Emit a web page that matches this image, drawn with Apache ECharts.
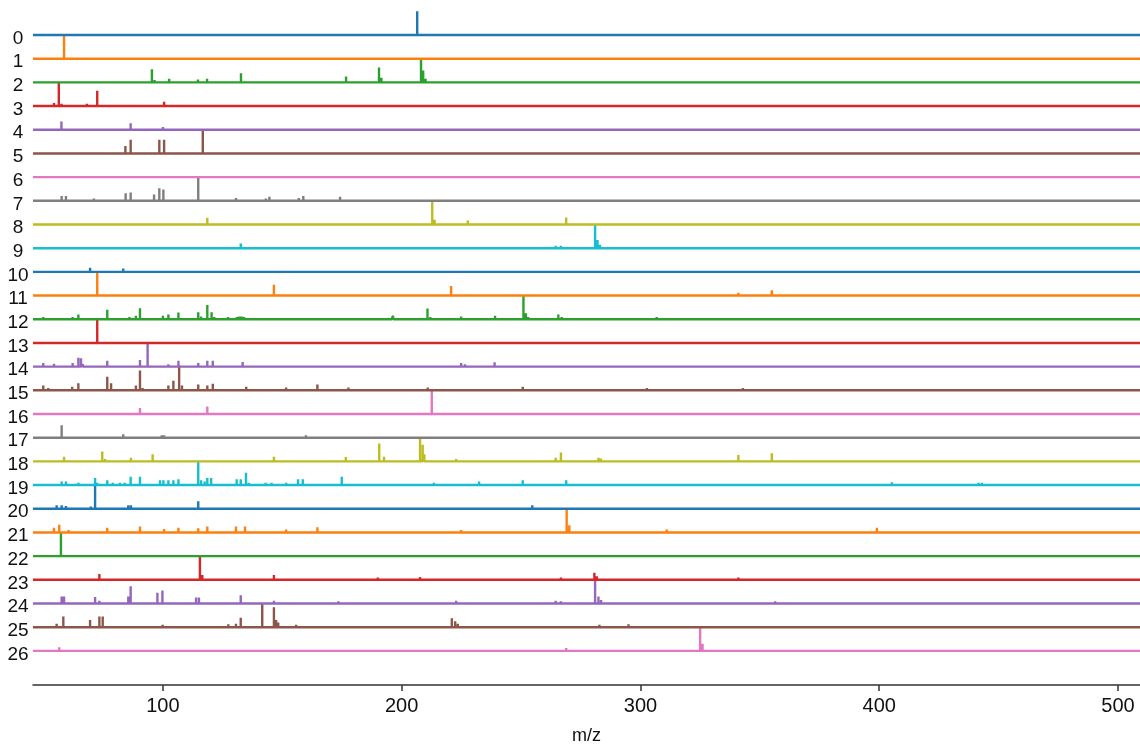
<!DOCTYPE html>
<html>
<head>
<meta charset="utf-8">
<script src="https://cdn.jsdelivr.net/npm/echarts@6/dist/echarts.min.js"></script>
<style>html,body{margin:0;padding:0;background:#fff;}#chart{width:1140px;height:744px;}</style>
</head>
<body>
<div id="chart"></div>
<script>
// Row labels (spectrum index)
const rowLabels = ['0','1','2','3','4','5','6','7','8','9','10','11','12','13','14','15','16','17','18','19','20','21','22','23','24','25','26'];
// X axis tick labels
const xTicks = [100, 200, 300, 400, 500];
const mzMin = 45.6, mzMax = 509.2;

// Peaks per spectrum: [m/z, relative intensity]
const s0 = [[206.5,1.0]];
const s1 = [[58.6,1.0]];
const s2 = [[60.3,0.05],[74.5,0.06],[80.8,0.05],[84.6,0.05],[88.3,0.06],[95.4,0.55],[96.5,0.1],[102.6,0.15],[114.7,0.12],[118.5,0.15],[132.7,0.38],[133.5,0.08],[146.5,0.08],[162.5,0.07],[165,0.06],[176.7,0.25],[177.5,0.08],[190.5,0.63],[191.5,0.2],[192.5,0.08],[208.1,1.0],[209,0.5],[210,0.15],[222.4,0.04],[249.6,0.04],[266.3,0.04],[282.7,0.04],[294.8,0.04],[369.4,0.03],[414.6,0.03],[430.5,0.03]];
const s3 = [[54.4,0.13],[56.4,1.0],[57.5,0.1],[68.2,0.1],[72.5,0.65],[100.5,0.18]];
const s4 = [[54.4,0.05],[57.5,0.35],[59.5,0.06],[72.3,0.03],[86.5,0.27],[100,0.12]];
const s5 = [[72.3,0.05],[84.3,0.31],[86.5,0.58],[98.5,0.58],[100.5,0.58],[116.7,1.0],[146.5,0.04],[158.7,0.04],[174.9,0.07],[220.7,0.04]];
const s6 = [];
const s7 = [[55.1,0.08],[57.6,0.2],[59.4,0.2],[66.4,0.06],[71.1,0.1],[74,0.05],[80.7,0.06],[84.4,0.32],[86.5,0.35],[96.3,0.27],[98.5,0.53],[100.2,0.48],[101.6,0.08],[114.8,1.0],[116.5,0.08],[130.6,0.12],[143.1,0.1],[144.6,0.17],[156.9,0.12],[158.8,0.2],[174.2,0.17],[189.3,0.04],[202.7,0.04],[206.9,0.04],[216.8,0.04],[232.4,0.05],[233.9,0.05]];
const s8 = [[64.5,0.04],[78,0.04],[90.4,0.08],[100,0.04],[108,0.04],[118.6,0.29],[130,0.04],[150,0.04],[180,0.04],[195,0.04],[212.8,1.0],[213.8,0.2],[227.7,0.17],[248.7,0.03],[268.9,0.3],[340,0.03],[356.4,0.03]];
const s9 = [[73.4,0.06],[132.6,0.2],[146.5,0.06],[160,0.03],[190,0.03],[248.7,0.05],[264.5,0.1],[266.7,0.1],[281,1.0],[282,0.35],[283,0.15],[325.7,0.04],[340.9,0.04],[356.4,0.04],[401.1,0.03],[414.6,0.03],[430,0.03]];
const s10 = [[55.5,0.08],[58,0.05],[69.5,0.17],[70.5,0.08],[83.4,0.14],[90,0.05],[99.5,0.05],[102,0.05],[114,0.04],[127.5,0.06],[140,0.04],[160,0.03],[200,0.03],[222,0.03],[370,0.03],[402,0.03]];
const s11 = [[72.5,1.0],[146.5,0.46],[220.7,0.4],[266.7,0.04],[281,0.03],[341,0.12],[355,0.22],[429.9,0.08]];
const s12 = [[49.9,0.1],[56,0.06],[62.2,0.1],[64.6,0.2],[72,0.06],[76.7,0.4],[86,0.1],[88.7,0.15],[90.4,0.46],[95,0.08],[100,0.15],[102.3,0.2],[106.5,0.28],[114.8,0.3],[116,0.12],[118.6,0.6],[120.4,0.3],[121.5,0.1],[127.3,0.1],[131,0.1],[132,0.12],[133,0.12],[134,0.1],[144.5,0.06],[151.6,0.06],[156.6,0.06],[164.6,0.08],[177.6,0.06],[185,0.05],[195.8,0.08],[196.4,0.15],[210.8,0.45],[212,0.1],[224.9,0.12],[226,0.08],[237,0.08],[239.1,0.15],[251,1.0],[252,0.25],[253,0.1],[265.6,0.2],[267,0.1],[268,0.05],[282,0.05],[306.8,0.1],[324.6,0.08],[378,0.04],[385,0.04],[406,0.03]];
const s13 = [[72.5,1.0]];
const s14 = [[49.9,0.15],[52,0.08],[54.4,0.12],[62.2,0.15],[64.6,0.38],[65.7,0.35],[66.5,0.1],[76.7,0.25],[78,0.05],[88.7,0.04],[90.4,0.28],[93.6,1.0],[100,0.05],[102.3,0.1],[106.5,0.25],[114.8,0.15],[118.6,0.25],[120.9,0.25],[133.4,0.2],[134.5,0.08],[150,0.03],[164,0.03],[178,0.04],[196,0.04],[210,0.03],[224.9,0.15],[226.5,0.1],[238.9,0.18],[240,0.06],[250,0.04],[266,0.04],[282,0.03],[300,0.04],[356,0.05]];
const s15 = [[49.9,0.2],[52,0.1],[56,0.06],[62,0.15],[64.6,0.3],[72,0.05],[76.7,0.57],[78.3,0.3],[86,0.08],[88.7,0.2],[90.4,0.84],[91.5,0.1],[98,0.08],[102.3,0.2],[104.4,0.4],[106.8,1.05],[108,0.2],[114.8,0.25],[118.6,0.2],[120.9,0.28],[127,0.08],[131,0.08],[134.9,0.15],[144.5,0.06],[151.6,0.12],[153,0.05],[164.7,0.25],[172,0.04],[177.7,0.12],[178.7,0.06],[186,0.06],[192,0.06],[196,0.06],[204,0.04],[210.9,0.12],[218,0.04],[222,0.04],[238,0.04],[250.7,0.15],[262,0.03],[266,0.03],[283,0.04],[302.7,0.1],[325,0.04],[342.9,0.1],[344,0.06],[369,0.04],[385,0.04],[407,0.04]];
const s16 = [[56.6,0.05],[72,0.04],[90.4,0.25],[106.5,0.05],[118.6,0.32],[146,0.04],[150,0.03],[212.6,1.0],[219,0.03],[248,0.03],[283,0.03]];
const s17 = [[57.6,0.52],[59,0.06],[68,0.04],[72,0.08],[73,0.06],[83.4,0.15],[84.5,0.05],[99.5,0.1],[100.5,0.1],[114.8,0.05],[159.9,0.1],[222,0.06],[226,0.04],[283,0.03],[400,0.03]];
const s18 = [[58.6,0.2],[74.6,0.42],[75.8,0.1],[86.6,0.15],[95.7,0.3],[106,0.03],[118.6,0.04],[146.5,0.2],[176.6,0.18],[190.6,0.76],[192.6,0.2],[207.7,1.0],[208.8,0.7],[209.5,0.3],[210.5,0.05],[222.8,0.1],[246,0.03],[264.5,0.15],[266.7,0.38],[282.4,0.15],[283.4,0.12],[341,0.27],[355,0.34]];
const s19 = [[52,0.05],[57.6,0.15],[59.4,0.15],[64.6,0.1],[71.6,0.3],[72.5,0.1],[76.7,0.2],[79,0.1],[82,0.1],[84,0.1],[86.5,0.35],[90.4,0.35],[92,0.06],[96,0.08],[98.8,0.2],[100.2,0.2],[102.3,0.2],[104.4,0.2],[106.5,0.25],[114.8,1.0],[116,0.2],[117.5,0.15],[118.6,0.3],[120.2,0.3],[127,0.08],[130.9,0.25],[132.6,0.25],[134.8,0.52],[136,0.1],[143,0.1],[145.5,0.1],[150,0.08],[151.6,0.1],[156.6,0.25],[158.6,0.25],[164,0.06],[170,0.06],[174.9,0.35],[176,0.08],[182,0.04],[189,0.05],[193,0.05],[196,0.05],[200,0.05],[204,0.05],[206,0.04],[213.5,0.1],[220,0.04],[232.4,0.15],[240,0.04],[250.7,0.2],[252,0.08],[268.9,0.2],[270,0.06],[302.7,0.05],[342.9,0.04],[378,0.03],[391,0.03],[399.4,0.05],[405.3,0.12],[406.5,0.06],[417,0.03],[420.6,0.03],[429.7,0.03],[441.6,0.1],[443,0.1],[456,0.03],[461,0.03]];
const s20 = [[52,0.04],[55.5,0.15],[57.6,0.15],[59.4,0.12],[65,0.04],[69.8,0.1],[71.6,1.0],[73,0.05],[80,0.04],[85.5,0.15],[86.6,0.15],[90,0.08],[94,0.06],[98,0.06],[101,0.06],[107.9,0.08],[114.8,0.32],[117,0.05],[123,0.05],[128,0.04],[146,0.04],[162,0.03],[180,0.03],[211.6,0.03],[254.7,0.15],[256,0.05],[268,0.03],[311,0.03],[342.9,0.03]];
const s21 = [[54.4,0.2],[56.6,0.32],[58,0.08],[60.5,0.1],[64,0.04],[76.7,0.2],[78,0.08],[90.4,0.25],[97,0.06],[100.5,0.15],[106.5,0.2],[114.8,0.18],[118.6,0.25],[130.6,0.25],[134.4,0.25],[151.6,0.12],[153,0.04],[164.7,0.22],[166,0.04],[175,0.03],[187,0.03],[200,0.03],[224.9,0.1],[226,0.04],[238.9,0.08],[252,0.03],[256,0.03],[269.1,1.0],[270.2,0.3],[271,0.08],[283,0.03],[285,0.03],[296,0.03],[311,0.12],[399,0.2],[400,0.04]];
const s22 = [[50,0.03],[55,0.04],[57.3,1.0],[60,0.04],[66,0.04],[71,0.03],[76,0.03],[83.7,0.08],[88,0.03],[92,0.03],[99,0.03],[110,0.03],[120,0.03],[143.5,0.08],[146,0.04],[160,0.03],[180,0.04],[184,0.04],[196,0.03],[206,0.03],[209.7,0.03],[213.7,0.03],[222.8,0.04],[227,0.03],[232.1,0.04],[265,0.03],[281,0.03],[400,0.03]];
const s23 = [[73.4,0.25],[74.5,0.08],[86.6,0.04],[100,0.04],[115.5,1.0],[116.5,0.2],[117.5,0.08],[146.5,0.2],[147.5,0.08],[190,0.1],[207.7,0.12],[208.8,0.05],[222.8,0.04],[266.7,0.1],[280.7,0.3],[281.7,0.15],[326,0.03],[341,0.1],[356,0.04],[401,0.03],[414.7,0.03],[430.7,0.03]];
const s24 = [[57.6,0.3],[58.6,0.3],[71.6,0.28],[73.4,0.12],[75,0.06],[85.5,0.3],[86.5,0.73],[95,0.08],[97.7,0.45],[99.8,0.55],[106,0.04],[113.9,0.25],[115.1,0.25],[117,0.06],[132.6,0.35],[146.5,0.12],[147.5,0.06],[173.5,0.1],[190,0.04],[200,0.04],[201.5,0.04],[222.8,0.12],[224,0.06],[230,0.04],[248.7,0.05],[264.5,0.12],[266.7,0.1],[268,0.05],[281,1.0],[282.4,0.3],[283.5,0.15],[296,0.04],[340,0.04],[341.5,0.04],[355,0.08],[356.4,0.1],[401,0.04],[414.6,0.04],[430,0.06]];
const s25 = [[55.5,0.15],[58.3,0.45],[69.5,0.3],[73.4,0.45],[74.8,0.45],[86,0.06],[90.4,0.08],[99.9,0.1],[101,0.08],[113.5,0.08],[127.4,0.12],[130.6,0.15],[132.6,0.4],[141.6,1.0],[146.5,0.84],[147.4,0.3],[148.3,0.2],[155.8,0.1],[178,0.04],[187,0.04],[204,0.05],[206,0.05],[208,0.05],[221,0.38],[222.4,0.25],[223.5,0.15],[238,0.05],[264.5,0.07],[266.7,0.07],[282.8,0.1],[283.8,0.05],[295,0.12],[341,0.04],[355,0.05],[356.5,0.05],[370,0.03],[401,0.04],[414.6,0.03],[430.5,0.05],[502,0.03]];
const s26 = [[56.6,0.15],[74,0.03],[90,0.03],[106,0.03],[120,0.03],[140,0.03],[268.9,0.12],[325,1.0],[326,0.3],[340.1,0.08]];

const spectra = [s0,s1,s2,s3,s4,s5,s6,s7,s8,s9,s10,s11,s12,s13,s14,s15,s16,s17,s18,s19,s20,s21,s22,s23,s24,s25,s26];
const palette = ['#1f77b4','#ff7f0e','#2ca02c','#d62728','#9467bd','#8c564b','#e377c2','#7f7f7f','#bcbd22','#17becf'];

// Build stick-spectrum polylines: row i baseline is at y=i (inverted axis), peaks rise by intensity
const series = spectra.map((peaks, i) => {
  const pts = [[mzMin, i]];
  peaks.slice().sort((a,b)=>a[0]-b[0]).forEach(([mz, h]) => {
    pts.push([mz, i], [mz, i - h], [mz, i]);
  });
  pts.push([mzMax, i]);
  return {
    type: 'line', name: rowLabels[i], data: pts, symbol: 'none', showSymbol: false,
    lineStyle: { width: 2.4, color: palette[i % 10] }, itemStyle: { color: palette[i % 10] },
    animation: false, silent: true, z: 2 + (27 - i)
  };
});

const font = 'Liberation Sans, Arial, sans-serif';
const chart = echarts.init(document.getElementById('chart'), null, { renderer: 'canvas' });
chart.setOption({
  animation: false,
  backgroundColor: '#fff',
  grid: { left: 33, right: 0, top: 11.3, bottom: 59, containLabel: false, outerBoundsMode: 'none' },
  xAxis: {
    type: 'value', min: mzMin, max: mzMax,
    name: 'm/z', nameLocation: 'middle', nameGap: 42,
    nameTextStyle: { fontSize: 18, color: '#111', fontFamily: font },
    axisLine: { show: true, onZero: false, lineStyle: { color: '#333', width: 1.5 } },
    axisTick: { show: true, customValues: xTicks, length: 6, lineStyle: { color: '#333', width: 1.5 } },
    axisLabel: { show: true, customValues: xTicks, fontSize: 20, color: '#111', margin: 11, fontFamily: font },
    splitLine: { show: false }
  },
  yAxis: {
    type: 'value', inverse: true, min: -1, max: 27.44,
    axisLine: { show: false },
    axisTick: { show: false },
    splitLine: { show: false },
    axisLabel: {
      show: true, customValues: rowLabels.map((_, i) => i),
      formatter: v => {
        const t = rowLabels[Math.round(v)];
        return t === undefined ? '' : '{a|' + t + '}';
      },
      margin: 15, align: 'center',
      rich: { a: { fontSize: 19, color: '#111', fontFamily: font, padding: [7, 0, 0, 0], align: 'center' } }
    }
  },
  series: series
});
</script>
</body>
</html>
